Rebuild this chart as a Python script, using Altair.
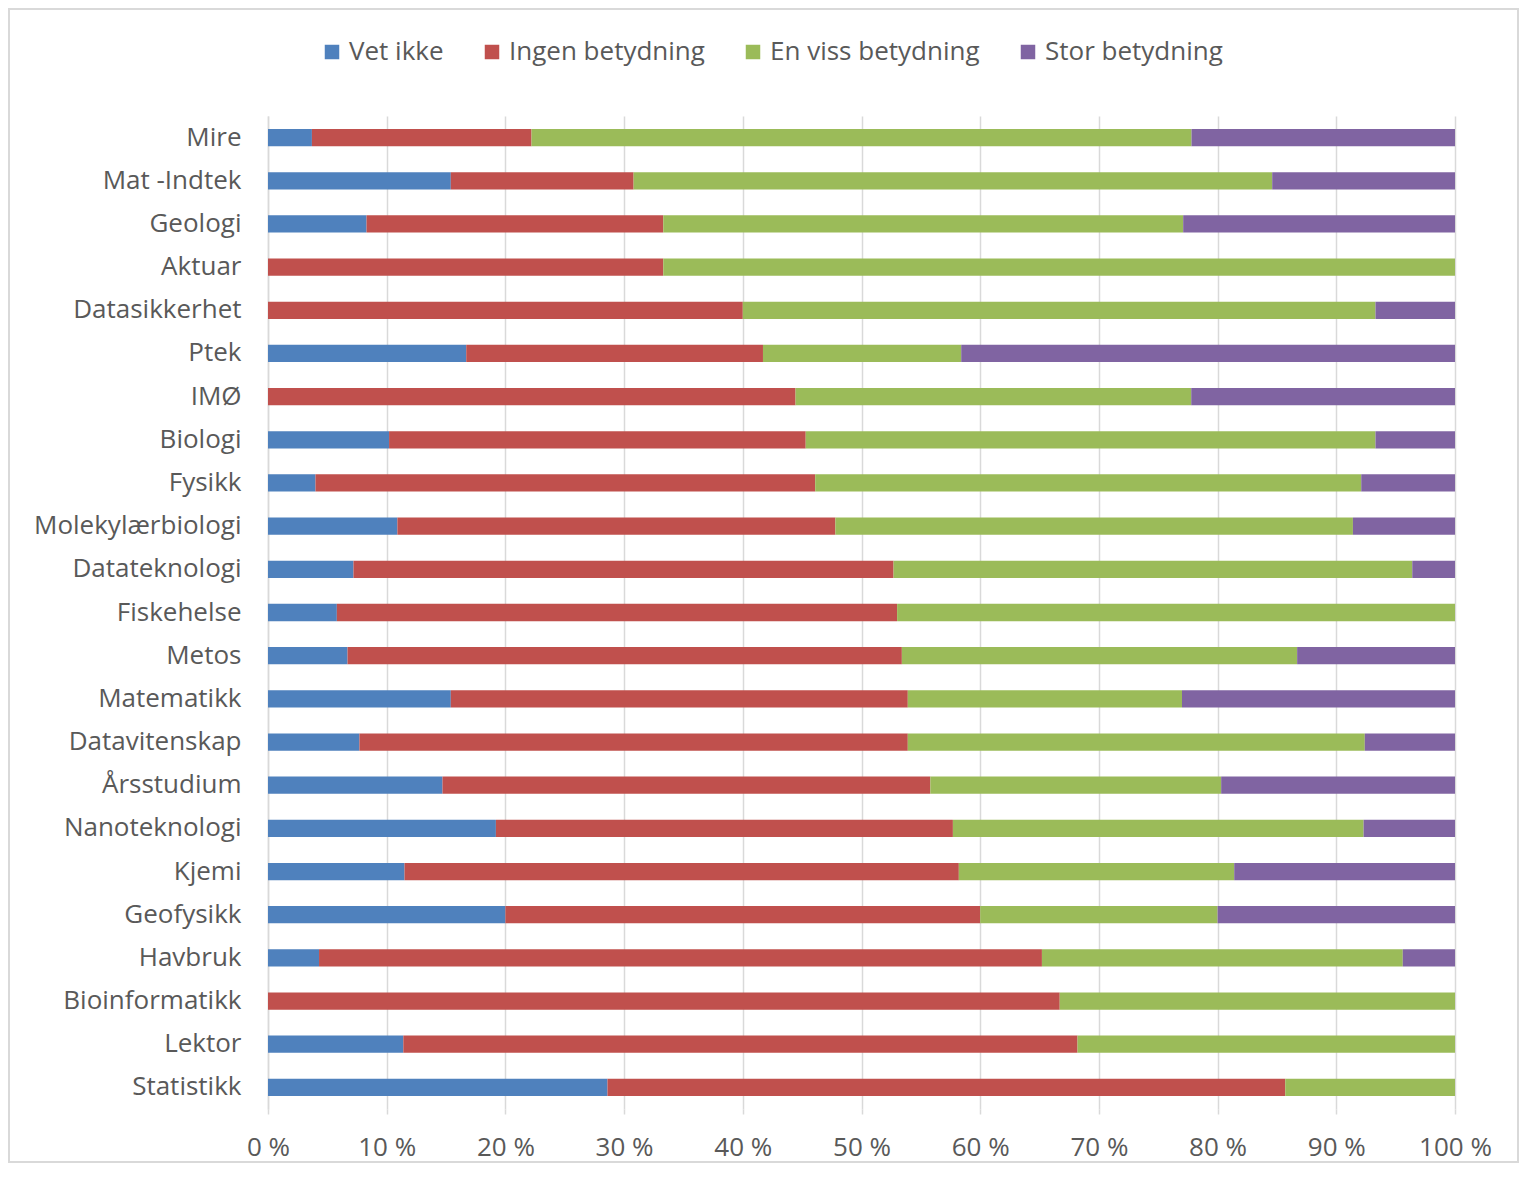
import altair as alt
import pandas as pd

categories = ["Mire", "Mat -Indtek", "Geologi", "Aktuar", "Datasikkerhet", "Ptek", "IMØ",
              "Biologi", "Fysikk", "Molekylærbiologi", "Datateknologi", "Fiskehelse", "Metos",
              "Matematikk", "Datavitenskap", "Årsstudium\u00a0", "Nanoteknologi", "Kjemi",
              "Geofysikk", "Havbruk", "Bioinformatikk", "Lektor", "Statistikk"]

vet_ikke = [3.7, 15.4, 8.3, 0, 0, 16.7, 0, 10.2, 4.0, 10.9, 7.2, 5.8, 6.7, 15.4, 7.7, 14.7,
            19.2, 11.5, 20.0, 4.3, 0, 11.4, 28.6]
ingen = [18.5, 15.4, 25.0, 33.3, 40.0, 25.0, 44.4, 35.1, 42.1, 36.9, 45.5, 47.2, 46.7, 38.5,
         46.2, 41.1, 38.5, 46.7, 40.0, 60.9, 66.7, 56.8, 57.1]
en_viss = [55.6, 53.8, 43.8, 66.7, 53.3, 16.7, 33.3, 48.0, 46.0, 43.6, 43.7, 47.0, 33.3, 23.1,
           38.5, 24.5, 34.6, 23.2, 20.0, 30.4, 33.3, 31.8, 14.3]
stor = [22.2, 15.4, 22.9, 0, 6.7, 41.6, 22.2, 6.7, 7.9, 8.6, 3.6, 0, 13.3, 23.0, 7.6, 19.7,
        7.7, 18.6, 20.0, 4.4, 0, 0, 0]

series = ["Vet ikke", "Ingen betydning", "En viss betydning", "Stor betydning"]
colors = ["#4F81BD", "#C0504D", "#9BBB59", "#8064A2"]
x_ticks = [0, 0.1, 0.2, 0.3, 0.4, 0.5, 0.6, 0.7, 0.8, 0.9, 1.0]

rows = []
for si, (name, vals) in enumerate(zip(series, [vet_ikke, ingen, en_viss, stor])):
    for cat, v in zip(categories, vals):
        rows.append({"kategori": cat, "serie": name, "verdi": v, "rekkefolge": si})
df = pd.DataFrame(rows)

FONT = "Open Sans"
GRAY = "#595959"
LINE = "#d9d9d9"
FS = 26

bars = alt.Chart(df).mark_bar().encode(
    y=alt.Y("kategori:N", sort=categories, title=None,
            scale=alt.Scale(paddingInner=0.6, paddingOuter=0.3),
            axis=alt.Axis(ticks=False, labelPadding=27, labelFontSize=FS, labelFont=FONT,
                          labelColor=GRAY, domainColor=LINE, domainWidth=1.5, labelLimit=400)),
    x=alt.X("verdi:Q", stack="normalize", title=None,
            scale=alt.Scale(domain=[0, 1]),
            axis=alt.Axis(values=x_ticks, labelExpr="round(datum.value*100) + ' %'",
                          grid=True, gridColor=LINE, gridWidth=1.5, domain=False,
                          ticks=True, tickSize=5, tickColor=LINE, tickWidth=1.5,
                          labelFlush=False, labelPadding=20, labelFontSize=FS,
                          labelFont=FONT, labelColor=GRAY)),
    color=alt.Color("serie:N", sort=series,
                    scale=alt.Scale(domain=series, range=colors),
                    legend=alt.Legend(title=None, orient="none", legendX=51, legendY=-77,
                                      direction="horizontal", symbolType="square",
                                      symbolSize=210, symbolStrokeWidth=0,
                                      labelFontSize=FS, labelFont=FONT, labelColor=GRAY,
                                      labelLimit=500, labelOffset=4, columnPadding=35)),
    order=alt.Order("rekkefolge:Q", sort="ascending"),
)

border = alt.Chart(alt.Data(values=[{"a": 1}])).mark_rect(
    filled=False, stroke=LINE, strokeWidth=2
).encode(
    x=alt.value(-259), x2=alt.value(1250), y=alt.value(-107), y2=alt.value(1046)
)

chart = alt.layer(border, bars).properties(
    width=1187, height=993,
    autosize=alt.AutoSizeParams(type="none"),
    padding={"left": 260, "top": 108, "right": 64, "bottom": 55},
).configure_view(stroke=None)

chart.save("out.html", embed_options={"renderer": "svg", "actions": False})
